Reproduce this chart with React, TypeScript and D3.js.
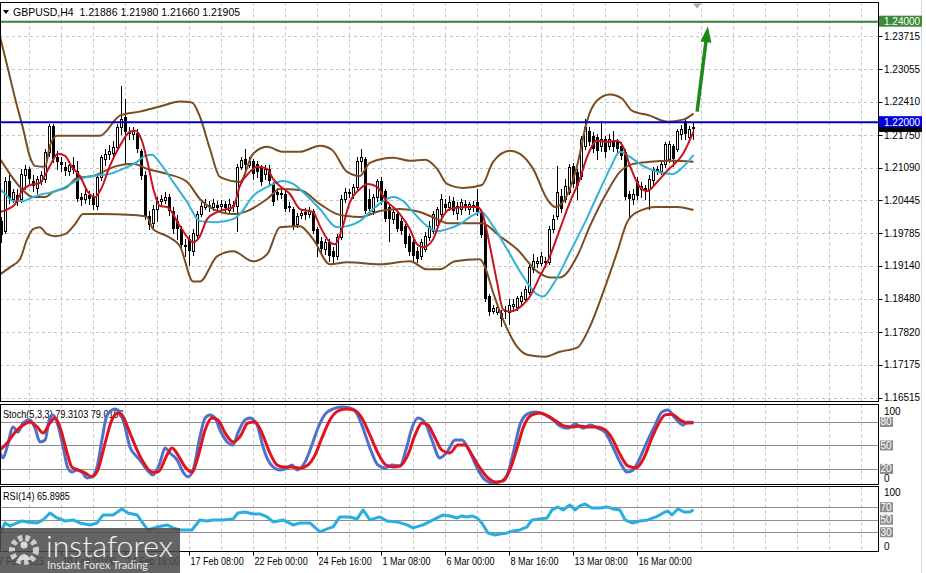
import React from "react";
import * as d3 from "d3";

// ---------- DATA ----------
// candles: [open, high, low, close], GBPUSD H4
const candles: number[][] = [
  [1.2003,1.2011,1.1961,1.1975],[1.1983,1.2091,1.1979,1.2083],[1.2083,1.2095,1.2039,1.2047],[1.2047,1.2067,1.2041,1.2061],
  [1.2055,1.2067,1.2035,1.2043],[1.2047,1.2107,1.2041,1.2097],[1.2095,1.2115,1.2067,1.2107],[1.2107,1.2111,1.2079,1.2087],
  [1.2083,1.2095,1.2063,1.2073],[1.2069,1.2093,1.2059,1.2087],[1.2083,1.2103,1.2077,1.2095],[1.2087,1.2147,1.2081,1.2141],
  [1.2141,1.2197,1.2133,1.2193],[1.2193,1.2197,1.2121,1.2127],[1.2131,1.2143,1.2107,1.2121],[1.2121,1.2131,1.2103,1.2115],
  [1.2111,1.2121,1.2095,1.2103],[1.2103,1.2123,1.2095,1.2115],[1.2115,1.2131,1.2099,1.2105],[1.2103,1.2123,1.2043,1.2047],
  [1.2051,1.2059,1.2035,1.2045],[1.2047,1.2067,1.2039,1.2057],[1.2055,1.2063,1.2037,1.2047],[1.2051,1.2059,1.2027,1.2035],
  [1.2033,1.2095,1.2027,1.2091],[1.2091,1.2135,1.2085,1.2131],[1.2127,1.2147,1.2115,1.2137],[1.2137,1.2155,1.2127,1.2143],
  [1.2139,1.2163,1.2131,1.2151],[1.2151,1.2197,1.2147,1.2191],[1.2191,1.2271,1.2177,1.2207],[1.2211,1.2247,1.2117,1.2181],
  [1.2181,1.2191,1.2167,1.2177],[1.2177,1.2191,1.2167,1.2183],[1.2179,1.2187,1.2141,1.2147],[1.2143,1.2147,1.2087,1.2093],
  [1.2095,1.2103,1.2007,1.2013],[1.2013,1.2023,1.1987,1.1995],[1.1999,1.2035,1.1991,1.2027],[1.2027,1.2051,1.2003,1.2043],
  [1.2043,1.2055,1.2035,1.2047],[1.2045,1.2061,1.2039,1.2051],[1.2051,1.2057,1.2015,1.2023],[1.2023,1.2031,1.1979,1.1987],
  [1.2003,1.2015,1.1967,1.1987],[1.1987,1.1993,1.1947,1.1955],[1.1955,1.1967,1.1933,1.1951],[1.1967,1.1975,1.1915,1.1943],
  [1.1943,1.1987,1.1935,1.1979],[1.1975,1.2023,1.1971,1.2017],[1.2017,1.2041,1.2013,1.2033],[1.2031,1.2047,1.2027,1.2037],
  [1.2035,1.2043,1.2023,1.2031],[1.2031,1.2047,1.2025,1.2039],[1.2035,1.2043,1.2023,1.2029],[1.2033,1.2045,1.2027,1.2037],
  [1.2037,1.2043,1.2019,1.2029],[1.2025,1.2047,1.2021,1.2037],[1.2035,1.2043,1.2023,1.2031],[1.2033,1.2117,1.1983,1.2111],
  [1.2111,1.2131,1.2107,1.2125],[1.2127,1.2147,1.2107,1.2115],[1.2115,1.2131,1.2111,1.2123],[1.2123,1.2127,1.2087,1.2097],
  [1.2117,1.2123,1.2091,1.2101],[1.2111,1.2115,1.2075,1.2081],[1.2097,1.2115,1.2087,1.2107],[1.2107,1.2115,1.2075,1.2083],
  [1.2077,1.2081,1.2035,1.2041],[1.2061,1.2069,1.2047,1.2055],[1.2059,1.2067,1.2049,1.2055],[1.2057,1.2063,1.2023,1.2027],
  [1.2031,1.2041,1.2023,1.2033],[1.2027,1.2031,1.1987,1.1993],[1.1997,1.2019,1.1991,1.2013],[1.2015,1.2027,1.2009,1.2019],
  [1.2021,1.2029,1.2007,1.2015],[1.2017,1.2031,1.2011,1.2023],[1.2023,1.2027,1.1979,1.1983],[1.1987,1.1991,1.1933,1.1957],
  [1.1963,1.1971,1.1939,1.1947],[1.1947,1.1967,1.1937,1.1961],[1.1961,1.1967,1.1923,1.1933],[1.1943,1.1951,1.1921,1.1931],
  [1.1933,1.1977,1.1927,1.1971],[1.1971,1.2055,1.1967,1.2047],[1.2047,1.2069,1.2041,1.2061],[1.2061,1.2067,1.2051,1.2057],
  [1.2055,1.2077,1.2049,1.2071],[1.2071,1.2131,1.2067,1.2123],[1.2123,1.2147,1.2103,1.2131],[1.2127,1.2131,1.2019,1.2023],
  [1.2047,1.2067,1.2019,1.2027],[1.2023,1.2057,1.2017,1.2051],[1.2051,1.2087,1.2043,1.2083],[1.2083,1.2091,1.2037,1.2043],
  [1.2063,1.2067,1.2003,1.2007],[1.2031,1.2037,1.1963,1.2007],[1.2007,1.2027,1.1999,1.2021],[1.2017,1.2023,1.1983,1.1987],
  [1.2003,1.2011,1.1977,1.1983],[1.1993,1.1997,1.1951,1.1957],[1.1973,1.1977,1.1935,1.1941],[1.1961,1.1967,1.1923,1.1933],
  [1.1943,1.1951,1.1921,1.1927],[1.1933,1.1967,1.1927,1.1961],[1.1947,1.1981,1.1943,1.1973],[1.1971,1.2003,1.1965,1.1993],
  [1.1983,1.2023,1.1979,1.2017],[1.1995,1.2031,1.1989,1.2027],[1.2017,1.2057,1.2013,1.2047],[1.2037,1.2047,1.2023,1.2029],
  [1.2031,1.2053,1.2025,1.2041],[1.2043,1.2051,1.2017,1.2023],[1.2019,1.2041,1.2007,1.2033],[1.2027,1.2047,1.2017,1.2041],
  [1.2037,1.2045,1.2025,1.2033],[1.2027,1.2041,1.2017,1.2037],[1.2035,1.2043,1.2023,1.2029],[1.2041,1.2067,1.2015,1.2021],
  [1.2021,1.2027,1.1971,1.1975],[1.1995,1.2001,1.1843,1.1847],[1.1853,1.1857,1.1817,1.1823],[1.1825,1.1837,1.1821,1.1831],
  [1.1823,1.1839,1.1819,1.1833],[1.1821,1.1827,1.1795,1.1809],[1.1827,1.1835,1.1811,1.1823],[1.1823,1.1847,1.1799,1.1837],
  [1.1835,1.1847,1.1827,1.1839],[1.1833,1.1853,1.1827,1.1849],[1.1843,1.1861,1.1837,1.1853],[1.1847,1.1873,1.1843,1.1867],
  [1.1861,1.1919,1.1857,1.1911],[1.1907,1.1937,1.1901,1.1923],[1.1919,1.1931,1.1911,1.1923],[1.1919,1.1941,1.1915,1.1933],
  [1.1923,1.1931,1.1911,1.1919],[1.1921,1.1993,1.1917,1.1987],[1.1987,1.2015,1.1981,1.2007],[1.2013,1.2113,1.2007,1.2061],
  [1.2053,1.2067,1.2021,1.2027],[1.2047,1.2087,1.2041,1.2073],[1.2061,1.2117,1.2057,1.2111],[1.2113,1.2119,1.2071,1.2077],
  [1.2101,1.2107,1.2047,1.2073],[1.2093,1.2173,1.2087,1.2167],[1.2153,1.2207,1.2147,1.2191],[1.2183,1.2191,1.2155,1.2161],
  [1.2173,1.2181,1.2141,1.2147],[1.2171,1.2177,1.2127,1.2143],[1.2153,1.2203,1.2143,1.2167],[1.2167,1.2173,1.2131,1.2141],
  [1.2153,1.2177,1.2147,1.2167],[1.2161,1.2183,1.2143,1.2151],[1.2161,1.2167,1.2137,1.2147],[1.2153,1.2161,1.2127,1.2133],
  [1.2141,1.2147,1.2047,1.2051],[1.2057,1.2063,1.2011,1.2047],[1.2047,1.2067,1.2037,1.2057],[1.2083,1.2091,1.2047,1.2053],
  [1.2067,1.2081,1.2051,1.2073],[1.2067,1.2075,1.2047,1.2069],[1.2067,1.2095,1.2027,1.2087],[1.2085,1.2111,1.2077,1.2107],
  [1.2107,1.2113,1.2097,1.2103],[1.2103,1.2123,1.2097,1.2117],[1.2117,1.2161,1.2111,1.2157],[1.2127,1.2163,1.2121,1.2157],
  [1.2153,1.2157,1.2113,1.2127],[1.2147,1.2187,1.2143,1.2183],[1.2177,1.2195,1.2167,1.2187],[1.2203,1.2207,1.2167,1.2177],
  [1.2171,1.2193,1.2161,1.2187],[1.21886,1.2198,1.2166,1.21905],
];

// indicator lines: [bar index, value]
const bbUpper = [[-0.4,1.2371],[1.6,1.2307],[3.4,1.2247],[5.4,1.2187],[7.1,1.2131],[8.4,1.2113],[10.9,1.2111],[12.1,1.2153],[13.9,1.2173],[19.6,1.2173],[24.6,1.2173],[29.6,1.2213],[34.6,1.2221],[39.6,1.2231],[44.6,1.2241],[47.6,1.2239],[49.6,1.2211],[52.1,1.2147],[54.6,1.2091],[59.6,1.2081],[62.9,1.2137],[66.4,1.2151],[70.4,1.2141],[74.6,1.2141],[79.6,1.2153],[82.6,1.2145],[86.4,1.2101],[89.6,1.2093],[92.1,1.2119],[97.9,1.2129],[102.1,1.2123],[105.9,1.2125],[108.9,1.2107],[111.4,1.2077],[115.4,1.2069],[120.1,1.2075],[122.9,1.2121],[127.1,1.2143],[129.6,1.2137],[132.9,1.2107],[136.4,1.2047],[138.4,1.2031],[140.9,1.2047],[143.9,1.2113],[146.4,1.2203],[148.9,1.2243],[152.1,1.2255],[155.1,1.2247],[157.6,1.2223],[162.1,1.2213],[166.4,1.2201],[170.4,1.2205],[173,1.2217]];
const bbMiddle = [[-0.4,1.2127],[2.1,1.2097],[4.6,1.2071],[7.9,1.2051],[10.9,1.2051],[12.9,1.2061],[16.4,1.2071],[18.9,1.2089],[22.9,1.2093],[28.9,1.2113],[32.9,1.2117],[36.4,1.2107],[41.4,1.2097],[46.4,1.2081],[49.6,1.2047],[52.9,1.2027],[57.9,1.2017],[61.4,1.2023],[66.4,1.2047],[69.6,1.2067],[74.6,1.2065],[79.6,1.2037],[83.9,1.2017],[86.4,1.2013],[89.6,1.2011],[94.6,1.2023],[99.6,1.2027],[104.6,1.2021],[108.9,1.2007],[111.4,1.1999],[120.1,1.1999],[124.6,1.1973],[128.9,1.1947],[133.9,1.1903],[137.1,1.1891],[139.6,1.1891],[143.9,1.1933],[147.1,1.1993],[151.4,1.2061],[154.6,1.2101],[157.9,1.2117],[162.1,1.2121],[167.1,1.2123],[173,1.2121]];
const bbLower = [[-0.4,1.1897],[2.1,1.1911],[4.6,1.1927],[6.4,1.1967],[7.9,1.1987],[9.6,1.1991],[11.4,1.1977],[13.4,1.1973],[15.9,1.1977],[18.4,1.1997],[20.4,1.2017],[24.6,1.2017],[32.9,1.2015],[36.4,1.2011],[37.9,1.1987],[41.4,1.1973],[44.6,1.1953],[47.9,1.1883],[49.6,1.1883],[53.9,1.1933],[57.9,1.1943],[62.9,1.1923],[66.4,1.1937],[69.6,1.1991],[74.6,1.1993],[77.9,1.1967],[82.1,1.1917],[86.4,1.1921],[94.6,1.1917],[102.1,1.1923],[106.4,1.1907],[109.6,1.1907],[113.4,1.1923],[119.6,1.1927],[120.9,1.1911],[122.9,1.1861],[125.4,1.1807],[128.9,1.1753],[131.4,1.1737],[135.9,1.1733],[139.6,1.1743],[143.9,1.1751],[147.1,1.1793],[150.4,1.1861],[153.9,1.1941],[156.4,1.2001],[158.9,1.2021],[163.9,1.2031],[168.9,1.2031],[173,1.2025]];
const maSlow = [[-0.4,1.2067],[1.4,1.2053],[2.9,1.2043],[5.4,1.2043],[7.9,1.2051],[10.4,1.2057],[12.9,1.2061],[16.4,1.2073],[19.6,1.2087],[22.9,1.2093],[27.1,1.2097],[30.4,1.2107],[33.9,1.2121],[35.9,1.2133],[37.6,1.2135],[39.6,1.2119],[42.9,1.2081],[46.4,1.2041],[49.6,1.2003],[53.9,1.2001],[57.9,1.2007],[59.6,1.2017],[62.9,1.2053],[66.4,1.2071],[70.4,1.2083],[72.9,1.2077],[76.4,1.2053],[79.6,1.2027],[83.9,1.1991],[86.4,1.1993],[89.6,1.2003],[92.9,1.2027],[95.4,1.2043],[97.9,1.2051],[100.4,1.2043],[102.9,1.2021],[106.4,1.1993],[108.9,1.1983],[111.4,1.1987],[114.6,1.1997],[117.9,1.2015],[119.9,1.2021],[122.9,1.1993],[126.4,1.1947],[130.4,1.1893],[133.9,1.1857],[135.4,1.1853],[137.9,1.1877],[142.1,1.1941],[145.4,1.1993],[148.9,1.2053],[152.1,1.2107],[154.6,1.2141],[157.1,1.2131],[160.4,1.2113],[165.4,1.2099],[167.9,1.2097],[170.4,1.2111],[173,1.2135]];
const maFast = [[-0.4,1.2021],[1.6,1.2027],[3.4,1.2037],[5.1,1.2063],[7.1,1.2075],[9.6,1.2079],[12.1,1.2113],[14.1,1.2137],[15.9,1.2133],[17.6,1.2111],[19.6,1.2093],[21.6,1.2061],[23.4,1.2051],[24.9,1.2067],[27.1,1.2113],[29.6,1.2153],[32.1,1.2181],[33.6,1.2183],[35.1,1.2163],[36.6,1.2117],[38.1,1.2063],[39.6,1.2033],[41.4,1.2031],[44.6,1.1993],[47.9,1.1961],[49.6,1.1973],[51.4,1.2007],[53.9,1.2021],[56.4,1.2027],[57.9,1.2031],[59.6,1.2073],[62.1,1.2101],[63.9,1.2111],[66.4,1.2107],[67.9,1.2087],[69.6,1.2073],[72.1,1.2057],[74.6,1.2027],[77.9,1.2021],[79.6,1.1993],[82.1,1.1961],[83.4,1.1957],[85.1,1.1987],[87.1,1.2041],[89.6,1.2067],[91.6,1.2077],[93.9,1.2071],[96.4,1.2041],[97.9,1.2031],[99.6,1.2017],[102.1,1.1987],[103.9,1.1957],[105.4,1.1951],[107.9,1.1967],[109.6,1.2001],[112.1,1.2027],[116.4,1.2031],[118.9,1.2031],[120.1,1.2021],[122.1,1.1953],[123.9,1.1881],[125.4,1.1827],[127.1,1.1823],[130.4,1.1837],[132.1,1.1853],[134.6,1.1893],[137.1,1.1933],[139.6,1.1987],[142.1,1.2041],[144.6,1.2087],[146.4,1.2131],[148.9,1.2163],[151.4,1.2161],[153.9,1.2163],[155.4,1.2151],[157.1,1.2113],[159.6,1.2071],[161.4,1.2063],[163.9,1.2081],[166.4,1.2103],[170.4,1.2137],[173,1.2181]];

const stochMain = [[-0.4,41.7],[0.4,34],[1.4,48],[2.9,73.6],[4.1,67],[5.4,78.7],[7.1,82.6],[8.4,72],[9.6,54.5],[10.9,57],[12.1,86],[12.9,89],[14.1,76],[15.4,48],[16.6,21],[17.6,16],[18.9,18.7],[20.1,16],[21.4,8.5],[22.6,10],[23.9,22.5],[25.1,57],[26.4,89],[28.4,96.6],[29.6,92.8],[30.9,73.6],[32.1,48],[33.4,38],[34.6,31.5],[36.4,18.7],[37.9,12.3],[39.6,27.7],[40.9,46.8],[42.1,40.4],[43.9,31.5],[45.4,16],[46.6,10],[47.9,18.7],[49.6,60.9],[50.9,85],[52.1,89],[53.4,85],[54.6,69.8],[56.4,54.5],[57.9,50.6],[59.1,66],[60.9,82.6],[62.1,85],[63.9,76],[65.4,48],[66.6,31.5],[67.9,22.5],[69.6,18.7],[71.4,21.3],[72.6,25],[73.9,18.7],[75.9,29],[77.6,50.6],[79.1,72],[80.9,90],[82.9,96.6],[85.1,99],[87.1,98],[88.6,92.8],[90.1,76],[92.1,46.8],[94.1,25],[95.9,21.3],[97.6,25],[99.6,23.8],[101.1,44],[102.6,72],[104.1,85],[105.9,78.7],[107.6,57],[109.6,34],[111.4,41.7],[113.4,57],[115.1,57],[117.1,41.7],[118.9,21.3],[120.9,6],[122.9,2],[124.6,3.4],[126.4,12.3],[128.1,44],[129.6,76],[131.4,90],[133.4,92.8],[135.9,89],[137.9,82.6],[139.6,75],[141.6,72],[143.4,77.5],[145.4,72],[147.1,76],[149.1,72],[150.9,67],[152.6,50.6],[154.6,29],[156.4,16],[157.9,18.7],[159.6,34],[161.6,57],[163.4,76],[165.1,92.8],[166.6,95.3],[168.4,85],[170.4,76],[171.6,80],[173,79.3103]];
const stochSignal = [[-0.4,44],[1.4,53],[3.4,67],[5.4,76],[7.1,80],[8.9,73.6],[10.4,66],[12.1,78.7],[13.4,85],[14.6,73.6],[16.4,40.4],[17.6,22.5],[19.1,18.7],[20.9,15],[22.6,10],[24.1,18.7],[25.9,53],[27.6,82.6],[29.1,91.5],[30.4,86.4],[32.1,66],[33.9,44],[35.4,29],[37.6,16],[39.1,16],[41.4,38],[42.6,46.8],[44.1,38],[45.9,22.5],[47.6,16],[49.1,35],[50.9,69.8],[52.6,85],[54.1,82.6],[55.9,66],[57.9,54.5],[59.6,61],[61.6,78.7],[63.4,80],[65.1,66],[67.1,40.4],[68.9,25],[70.4,22.5],[72.6,22.5],[74.6,21],[76.6,25],[78.4,38],[80.1,59.6],[82.1,82.6],[84.1,94],[86.1,96.6],[88.1,95.3],[90.1,85],[92.1,63.4],[94.1,40.4],[96.1,25],[97.9,22.5],[99.6,23.8],[101.6,38],[103.4,63.4],[105.1,78.7],[106.6,76],[108.4,59.6],[110.1,44],[112.1,40.4],[114.1,50.6],[115.9,50.6],[117.6,38],[119.6,21.3],[121.6,8.5],[123.6,3.4],[125.4,4.7],[127.1,18.7],[128.9,46.8],[130.6,75],[132.6,89],[134.6,91.5],[136.6,87.7],[138.6,81.3],[140.6,75],[142.6,73.6],[144.6,75],[146.6,73.6],[148.6,73.6],[150.6,71],[152.6,59.6],[154.6,39],[156.6,23.8],[158.6,21.3],[160.6,34],[162.4,57],[164.1,76],[165.9,89],[167.6,90],[169.6,82.6],[171.4,78.7],[173,79.0196]];
const rsi = [[-0.4,28.9],[0.9,44.9],[2.1,40],[3.9,44.9],[5.1,48],[6.4,46.5],[8.9,44.9],[10.4,49.7],[12.1,60.9],[13.9,52.9],[15.9,48],[17.9,49.7],[19.6,44.9],[22.1,41.7],[23.9,44.9],[25.4,57.7],[27.9,57.7],[30.1,67.3],[31.6,60.9],[33.9,57.7],[35.1,46.5],[36.6,33.7],[38.9,38.5],[41.4,41.7],[42.9,36.9],[44.6,33.7],[47.6,33.7],[49.6,49.7],[51.4,48],[52.9,49.7],[55.4,49.7],[57.9,51.3],[59.1,60.9],[60.9,62.5],[62.9,59.3],[64.6,59.3],[66.4,54.5],[67.9,46.5],[70.4,49.7],[72.9,41.7],[74.6,44.9],[77.1,44.9],[79.6,30.5],[81.4,35.3],[82.9,38.5],[84.6,54.5],[87.1,54.5],[88.9,51.3],[90.4,65.7],[92.1,49.7],[94.6,54.5],[96.4,48],[98.9,46.5],[101.4,41.7],[102.9,36.9],[105.4,41.7],[107.9,49.7],[110.4,57.7],[112.1,56.1],[113.9,52.9],[115.1,56.1],[116.4,54.5],[117.6,56.1],[118.9,52.9],[120.1,44.9],[121.6,28.9],[123.4,25.7],[124.6,27.3],[126.4,28.9],[127.9,32.1],[129.6,33.7],[131.4,38.5],[132.6,49.7],[134.6,51.3],[136.4,52.9],[137.6,65.7],[139.1,70.5],[140.4,65.7],[142.1,73.7],[143.4,65.7],[144.6,72.1],[145.9,75.3],[147.6,68.9],[149.6,68.9],[151.4,70.5],[152.9,67.3],[154.6,65.7],[155.9,49.7],[157.6,44.9],[159.6,48],[161.6,49.7],[163.6,54.5],[165.4,60.9],[166.6,64.1],[167.6,57.7],[169.1,67.3],[170.6,62.5],[172.1,62.5],[173,65.8985]];

const priceTicks = [1.23715, 1.23055, 1.2241, 1.2175, 1.2109, 1.20445, 1.19785, 1.1914, 1.1848, 1.1782, 1.17175, 1.16515];
const dateTickBars = [-1, 15, 31, 47, 63, 79, 95, 111, 127, 143, 159];
const dateTickLabels = ["7 Feb 2023", "10 Feb 00:00", "14 Feb 16:00", "17 Feb 08:00", "22 Feb 00:00", "24 Feb 16:00", "1 Mar 08:00", "6 Mar 00:00", "8 Mar 16:00", "13 Mar 08:00", "16 Mar 00:00"];
const stochLevels = [80, 50, 20];
const rsiLevels = [70, 50, 30];
const resistanceLevel = 1.22;
const targetLevel = 1.24;
const arrowFrom = [173.9, 1.2221];
const arrowTo = [176.6, 1.2391];
const symbol = "GBPUSD,H4";
const stochParams = "Stoch(5,3,3)";
const rsiParams = "RSI(14)";

// ---------- CHART ----------
const FONT = "Tahoma, 'Liberation Sans', Arial, sans-serif";

export default function App() {
  const W = 926, H = 573;
  const R = 878.5; // right edge of plot panels
  const mainTop = 2.5, mainBot = 401.5;
  const stTop = 404.5, stBot = 484.5;
  const rsTop = 486.5, rsBot = 551.5;

  const x = d3.scaleLinear().domain([0, 1]).range([1.5, 5.5]);
  const y = d3.scaleLinear().domain([1.16515, 1.23715]).range([397.7, 36]);
  const ys = d3.scaleLinear().domain([0, 100]).range([484.6, 406.3]);
  const yr = d3.scaleLinear().domain([0, 100]).range([551, 488.5]);

  const fmt5 = d3.format(".5f");
  const fmt4 = d3.format(".4f");

  const priceLine = d3.line<number[]>().x(d => x(d[0])).y(d => y(d[1])).curve(d3.curveMonotoneX);
  const stochLine = d3.line<number[]>().x(d => x(d[0])).y(d => ys(d[1])).curve(d3.curveMonotoneX);
  const rsiLine = d3.line<number[]>().x(d => x(d[0])).y(d => yr(d[1])).curve(d3.curveLinear);

  const gridBars = d3.range(7, 220, 8).filter(i => x(i) < R - 1);
  const last = candles[candles.length - 1];
  const header = `${symbol}\u00a0\u00a0${fmt5(last[0])} ${fmt5(last[1])} ${fmt5(last[2])} ${fmt5(last[3])}`;

  // arrow geometry
  const ax0 = x(arrowFrom[0]), ay0 = y(arrowFrom[1]);
  const ax1 = x(arrowTo[0]), ay1 = y(arrowTo[1]);
  const dx = ax1 - ax0, dy = ay1 - ay0;
  const len = Math.hypot(dx, dy);
  const ux = dx / len, uy = dy / len;
  const headL = 16, headW = 5.5;
  const bx = ax1 - ux * headL, by = ay1 - uy * headL;
  const px = -uy, py = ux;

  const gridColor = "#c4c4c4";
  const levelColor = "#8e8e8e";

  const vGrid = (top: number, bot: number) =>
    gridBars.map(i => (
      <line key={"vg" + top + "_" + i} x1={x(i)} x2={x(i)} y1={top} y2={bot} stroke={gridColor} strokeDasharray="3,3" />
    ));

  const levelBox = (val: string, yy: number, key: string) => (
    <g key={key}>
      <rect x={880} y={yy - 5} width={13} height={10} fill="#8c8c8c" />
      <text x={880.5} y={yy} fontSize={10} fill="#ffffff" dominantBaseline="central" fontFamily={FONT}>{val}</text>
    </g>
  );

  const narrowText = (tx: number, ty: number, s: string, size: number, sx: number, key?: string) => (
    <text key={key} transform={`translate(${tx},${ty}) scale(${sx},1)`} x={0} y={0} fontSize={size} fill="#000" dominantBaseline="central">{s}</text>
  );

  return (
    <svg width={W} height={H} style={{ position: "absolute", left: 0, top: 0, background: "#ffffff" }} fontFamily={FONT}>
      <rect x={0} y={0} width={W} height={H} fill="#ffffff" />
      <defs>
        <clipPath id="clipMain"><rect x={0} y={mainTop + 0.5} width={R} height={mainBot - mainTop - 1} /></clipPath>
        <clipPath id="clipSt"><rect x={0} y={stTop + 0.5} width={R} height={stBot - stTop - 1} /></clipPath>
        <clipPath id="clipRs"><rect x={0} y={rsTop + 0.5} width={R} height={rsBot - rsTop - 1} /></clipPath>
      </defs>

      {/* right strip decoration */}
      <line x1={921.5} x2={921.5} y1={0} y2={H} stroke="#d8d8d8" />

      {/* ---------- MAIN PANEL ---------- */}
      <g>
        {vGrid(mainTop, mainBot)}
        {priceTicks.map(p => (
          <line key={"hg" + p} x1={0} x2={R} y1={Math.round(y(p)) + 0.5} y2={Math.round(y(p)) + 0.5} stroke={gridColor} strokeDasharray="3,3" />
        ))}
      </g>
      <g clipPath="url(#clipMain)">
        {candles.map((c, i) => {
          const [o, h, l, cl] = c;
          const cx = x(i);
          const yo = y(o), yc = y(cl);
          const top = Math.round(Math.min(yo, yc));
          const bot = Math.round(Math.max(yo, yc));
          const bull = cl >= o;
          return (
            <g key={"c" + i}>
              <line x1={cx} x2={cx} y1={Math.round(y(h))} y2={Math.round(y(l)) + 1} stroke="#000" strokeWidth={1} />
              {bull ? (
                <rect x={cx - 1} y={top + 0.5} width={2} height={Math.max(bot - top, 1)} fill="#ffffff" stroke="#000" strokeWidth={1} />
              ) : (
                <rect x={cx - 1.5} y={top} width={3} height={Math.max(bot - top, 1)} fill="#000" />
              )}
            </g>
          );
        })}
        <path d={priceLine(bbUpper) || ""} fill="none" stroke="#7b4c22" strokeWidth={2} />
        <path d={priceLine(bbMiddle) || ""} fill="none" stroke="#7b4c22" strokeWidth={2} />
        <path d={priceLine(bbLower) || ""} fill="none" stroke="#7b4c22" strokeWidth={2} />
        <path d={priceLine(maSlow) || ""} fill="none" stroke="#2fb3d9" strokeWidth={2} />
        <path d={priceLine(maFast) || ""} fill="none" stroke="#c8141e" strokeWidth={2} />
        <line x1={0} x2={R} y1={y(targetLevel)} y2={y(targetLevel)} stroke="#3c7c3c" strokeWidth={2} />
        <line x1={0} x2={R} y1={y(resistanceLevel)} y2={y(resistanceLevel)} stroke="#0000c0" strokeWidth={2} />
        {/* forecast arrow */}
        <line x1={ax0} y1={ay0} x2={bx + ux * 1} y2={by + uy * 1} stroke="#1b8a1b" strokeWidth={3.5} />
        <polygon
          points={`${ax1},${ay1} ${bx + px * headW},${by + py * headW} ${bx - px * headW},${by - py * headW}`}
          fill="#1b8a1b"
        />
      </g>
      {/* chart shift marker */}
      <polygon points={`${x(173.9) - 4},${mainTop + 1} ${x(173.9) + 4},${mainTop + 1} ${x(173.9)},${mainTop + 6}`} fill="#a8a8a8" />
      {/* header */}
      <polygon points="3,10 9,10 6,14" fill="#000" />
      <text x={13} y={12} fontSize={10.5} fill="#000" dominantBaseline="central">{header}</text>
      <rect x={0.5} y={mainTop} width={R - 0.5} height={mainBot - mainTop} fill="none" stroke="#000" strokeWidth={1} />

      {/* price axis */}
      {priceTicks.map(p => (
        <g key={"pt" + p}>
          <line x1={R} x2={R + 4} y1={Math.round(y(p)) + 0.5} y2={Math.round(y(p)) + 0.5} stroke="#000" />
          {p !== 1.2175 && <text x={884} y={y(p)} fontSize={10} fill="#000" dominantBaseline="central">{fmt5(p)}</text>}
        </g>
      ))}
      {/* current price label (partially hidden behind the level label) */}
      <rect x={879} y={y(last[3]) - 4} width={43} height={9} fill="#000" />
      <rect x={879} y={y(resistanceLevel) - 6} width={43} height={11} fill="#0000e0" />
      <text x={884} y={y(resistanceLevel)} fontSize={10} fill="#fff" dominantBaseline="central">{fmt5(resistanceLevel)}</text>
      <text x={884} y={y(1.2175) + 0.5} fontSize={10} fill="#000" dominantBaseline="central">{fmt5(1.2175)}</text>
      <rect x={879} y={y(targetLevel) - 6} width={43} height={11} fill="#3a8a3a" />
      <text x={884} y={y(targetLevel)} fontSize={10} fill="#fff" dominantBaseline="central">{fmt5(targetLevel)}</text>

      {/* ---------- STOCHASTIC PANEL ---------- */}
      {vGrid(stTop, stBot)}
      {stochLevels.map(v => (
        <line key={"sl" + v} x1={0} x2={R} y1={Math.round(ys(v)) + 0.5} y2={Math.round(ys(v)) + 0.5} stroke={levelColor} />
      ))}
      {narrowText(3, 414, `${stochParams} ${fmt4(stochMain[stochMain.length - 1][1])} ${fmt4(stochSignal[stochSignal.length - 1][1])}`, 10.5, 0.87)}
      <g clipPath="url(#clipSt)">
        <path d={stochLine(stochMain) || ""} fill="none" stroke="#5070cc" strokeWidth={3} strokeLinejoin="round" />
        <path d={stochLine(stochSignal) || ""} fill="none" stroke="#e0141e" strokeWidth={3} strokeLinejoin="round" />
      </g>
      <rect x={0.5} y={stTop} width={R - 0.5} height={stBot - stTop} fill="none" stroke="#000" />
      <text x={884} y={ys(100) + 5} fontSize={10} fill="#000" dominantBaseline="central">100</text>
      {stochLevels.map(v => levelBox(String(v), ys(v), "sb" + v))}
      <text x={884} y={ys(0) - 6} fontSize={10} fill="#000" dominantBaseline="central">0</text>

      {/* ---------- RSI PANEL ---------- */}
      {vGrid(rsTop, rsBot)}
      {rsiLevels.map(v => (
        <line key={"rl" + v} x1={0} x2={R} y1={Math.round(yr(v)) + 0.5} y2={Math.round(yr(v)) + 0.5} stroke={levelColor} />
      ))}
      {narrowText(3, 496, `${rsiParams} ${fmt4(rsi[rsi.length - 1][1])}`, 10.5, 0.87)}
      <g clipPath="url(#clipRs)">
        <path d={rsiLine(rsi) || ""} fill="none" stroke="#2aaee0" strokeWidth={3} strokeLinejoin="round" />
      </g>
      <rect x={0.5} y={rsTop} width={R - 0.5} height={rsBot - rsTop} fill="none" stroke="#000" />
      <text x={884} y={yr(100) + 4} fontSize={10} fill="#000" dominantBaseline="central">100</text>
      {rsiLevels.map(v => levelBox(String(v), yr(v), "rb" + v))}
      <text x={884} y={yr(0) - 5} fontSize={10} fill="#000" dominantBaseline="central">0</text>

      {/* ---------- TIME AXIS ---------- */}
      {dateTickBars.map((b, k) => (
        <g key={"dt" + b}>
          <line x1={x(b)} x2={x(b)} y1={rsBot} y2={rsBot + 4} stroke="#000" />
          {narrowText(x(b) + 1, 561, dateTickLabels[k], 10.5, 0.86)}
        </g>
      ))}

      {/* ---------- WATERMARK ---------- */}
      <g>
        <rect x={0} y={528} width={180} height={45} fill="#4a4a4a" opacity={0.86} />
        <circle cx={24} cy={550} r={12} fill="none" stroke="#d9d9d9" strokeWidth={6} strokeDasharray="4.2,3" opacity={0.9} />
        <circle cx={24} cy={545} r={3.5} fill="#d9d9d9" />
        <path d="M17,560 Q24,548 31,560 Z" fill="#d9d9d9" />
        <text x={46} y={557} fontSize={29} fill="#f2f2f2" fontFamily="Lato, 'Open Sans', sans-serif" fontWeight={300} textLength={127} lengthAdjust="spacingAndGlyphs">instaforex</text>
        <text x={47} y={569} fontSize={11} fill="#e6e6e6" fontFamily="Lato, 'Open Sans', sans-serif" textLength={101} lengthAdjust="spacingAndGlyphs">Instant Forex Trading</text>
      </g>
    </svg>
  );
}
